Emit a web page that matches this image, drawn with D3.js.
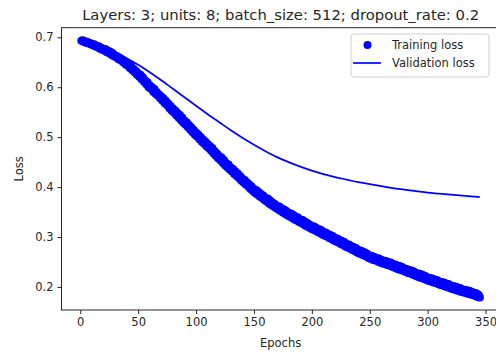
<!DOCTYPE html>
<html><head><meta charset="utf-8">
<script src="https://cdn.jsdelivr.net/npm/d3@7"></script>
<style>body{margin:0;background:#fff;} svg{display:block;font-family:"DejaVu Sans",sans-serif;}</style>
</head><body><svg id="c" width="496" height="356"></svg>
<script>
const title = "Layers: 3; units: 8; batch_size: 512; dropout_rate: 0.2";
const xLabel = "Epochs", yLabel = "Loss";
const xTicks = [0,50,100,150,200,250,300,350];
const yTicks = [0.2,0.3,0.4,0.5,0.6,0.7];
const seriesNames = ["Training loss","Validation loss"];
// training loss, one value per epoch (1..345)
const trainLoss = [
0.693,0.694,0.691,0.692,0.689,0.691,0.688,0.689,0.686,0.687,
0.684,0.686,0.682,0.683,0.680,0.682,0.677,0.679,0.675,0.677,
0.673,0.676,0.670,0.673,0.668,0.671,0.665,0.668,0.662,0.664,
0.660,0.662,0.656,0.659,0.654,0.656,0.650,0.653,0.646,0.648,
0.643,0.646,0.638,0.642,0.634,0.637,0.630,0.633,0.625,0.628,
0.621,0.625,0.616,0.620,0.611,0.614,0.606,0.610,0.600,0.604,
0.597,0.600,0.591,0.596,0.587,0.590,0.583,0.585,0.578,0.581,
0.573,0.577,0.568,0.572,0.564,0.567,0.558,0.562,0.553,0.557,
0.549,0.553,0.544,0.548,0.539,0.544,0.534,0.539,0.529,0.533,
0.525,0.529,0.520,0.524,0.515,0.519,0.510,0.514,0.505,0.509,
0.501,0.505,0.496,0.500,0.491,0.495,0.487,0.491,0.482,0.486,
0.478,0.482,0.473,0.478,0.468,0.472,0.463,0.467,0.458,0.462,
0.454,0.459,0.449,0.454,0.444,0.448,0.440,0.445,0.435,0.439,
0.431,0.436,0.426,0.431,0.422,0.427,0.418,0.422,0.413,0.417,
0.409,0.414,0.405,0.409,0.401,0.405,0.396,0.401,0.392,0.396,
0.388,0.394,0.385,0.390,0.381,0.386,0.378,0.383,0.374,0.378,
0.371,0.377,0.367,0.373,0.364,0.369,0.361,0.366,0.358,0.362,
0.355,0.361,0.352,0.357,0.349,0.355,0.346,0.352,0.343,0.348,
0.341,0.347,0.338,0.344,0.335,0.341,0.333,0.339,0.330,0.335,
0.328,0.334,0.325,0.331,0.322,0.328,0.320,0.325,0.317,0.322,
0.315,0.321,0.313,0.318,0.310,0.316,0.308,0.314,0.305,0.310,
0.303,0.309,0.301,0.306,0.298,0.304,0.296,0.302,0.293,0.298,
0.291,0.297,0.289,0.294,0.286,0.292,0.284,0.290,0.281,0.286,
0.279,0.285,0.277,0.282,0.274,0.280,0.272,0.278,0.269,0.274,
0.267,0.273,0.265,0.271,0.263,0.269,0.261,0.266,0.258,0.263,
0.256,0.262,0.254,0.260,0.253,0.258,0.251,0.257,0.249,0.254,
0.247,0.253,0.246,0.252,0.244,0.250,0.243,0.249,0.241,0.246,
0.239,0.245,0.237,0.243,0.235,0.242,0.234,0.240,0.232,0.237,
0.230,0.236,0.228,0.234,0.227,0.233,0.225,0.231,0.223,0.228,
0.221,0.227,0.219,0.226,0.218,0.224,0.216,0.222,0.214,0.219,
0.212,0.218,0.211,0.217,0.209,0.215,0.208,0.214,0.206,0.211,
0.204,0.210,0.203,0.209,0.201,0.207,0.200,0.206,0.198,0.203,
0.196,0.202,0.195,0.201,0.193,0.199,0.192,0.198,0.190,0.195,
0.189,0.194,0.188,0.193,0.186,0.192,0.185,0.190,0.184,0.188,
0.182,0.187,0.180,0.184,0.179
];
// validation loss, read at these epochs
const valEpochs = [1,10,20,30,40,50,60,70,80,90,100,110,120,130,140,150,160,170,180,190,200,210,220,230,240,250,260,270,280,290,300,310,320,330,340,345];
const valLoss = [0.693,0.687,0.679,0.670,0.658,0.645,0.630,0.614,0.597,0.580,0.563,0.546,0.530,0.514,0.499,0.485,0.472,0.460,0.450,0.441,0.433,0.426,0.420,0.415,0.410,0.406,0.402,0.398,0.395,0.392,0.389,0.387,0.385,0.383,0.381,0.380];

const svg = d3.select("#c");
const L = 61.5, T = 27.7, B = 310, R = 499.7;
const x = d3.scaleLinear().domain([-16.2, 362.2]).range([L, R]);
const y = d3.scaleLinear().domain([0.1539, 0.7192]).range([B, T]);
const blue = "#0000ff", ink = "#262626";
const fs = 11.5;

// axes
const gx = svg.append("g").attr("transform", `translate(0,${B})`)
  .call(d3.axisBottom(x).tickValues(xTicks).tickFormat(d3.format("d")).tickSize(4).tickPadding(4));
const gy = svg.append("g").attr("transform", `translate(${L},0)`)
  .call(d3.axisLeft(y).tickValues(yTicks).tickFormat(d3.format(".1f")).tickSize(4).tickPadding(4));
[gx, gy].forEach(g => {
  g.select(".domain").remove();
  g.selectAll("line").attr("stroke", ink).attr("stroke-width", 1);
  g.selectAll("text").attr("fill", ink).style("font-size", fs + "px").style("font-family", "DejaVu Sans");
});

// data
const dots = svg.append("g");
dots.selectAll("circle").data(trainLoss).join("circle")
  .attr("cx", (d, i) => x(i + 1)).attr("cy", d => y(d)).attr("r", 4.1).attr("fill", blue);
const line = d3.line().x((d, i) => x(valEpochs[i])).y(d => y(d)).curve(d3.curveMonotoneX);
svg.append("path").attr("d", line(valLoss)).attr("fill", "none").attr("stroke", blue).attr("stroke-width", 1.7);

// frame
svg.append("rect").attr("x", L).attr("y", T).attr("width", R - L).attr("height", B - T)
  .attr("fill", "none").attr("stroke", ink).attr("stroke-width", 1);

// labels
svg.append("text").attr("x", (L + R) / 2).attr("y", 19.5).attr("text-anchor", "middle")
  .style("font-size", "14.8px").attr("fill", ink).text(title);
svg.append("text").attr("x", (L + R) / 2).attr("y", 347).attr("text-anchor", "middle")
  .style("font-size", fs + "px").attr("fill", ink).text(xLabel);
svg.append("text").attr("transform", `translate(23,${(T + B) / 2}) rotate(-90)`).attr("text-anchor", "middle")
  .style("font-size", fs + "px").attr("fill", ink).text(yLabel);

// legend
const lg = svg.append("g");
lg.append("rect").attr("x", 351).attr("y", 34).attr("width", 138).attr("height", 43).attr("rx", 3)
  .attr("fill", "#fff").attr("fill-opacity", 0.8).attr("stroke", "#d0d0d0");
lg.append("circle").attr("cx", 367.5).attr("cy", 45).attr("r", 4).attr("fill", blue);
lg.append("line").attr("x1", 353).attr("x2", 381).attr("y1", 63).attr("y2", 63).attr("stroke", blue).attr("stroke-width", 1.7);
lg.selectAll("text.l").data(seriesNames).join("text").attr("class", "l")
  .attr("x", 392).attr("y", (d, i) => 49 + i * 18.3).style("font-size", fs + "px").attr("fill", ink).text(d => d);
</script></body></html>
